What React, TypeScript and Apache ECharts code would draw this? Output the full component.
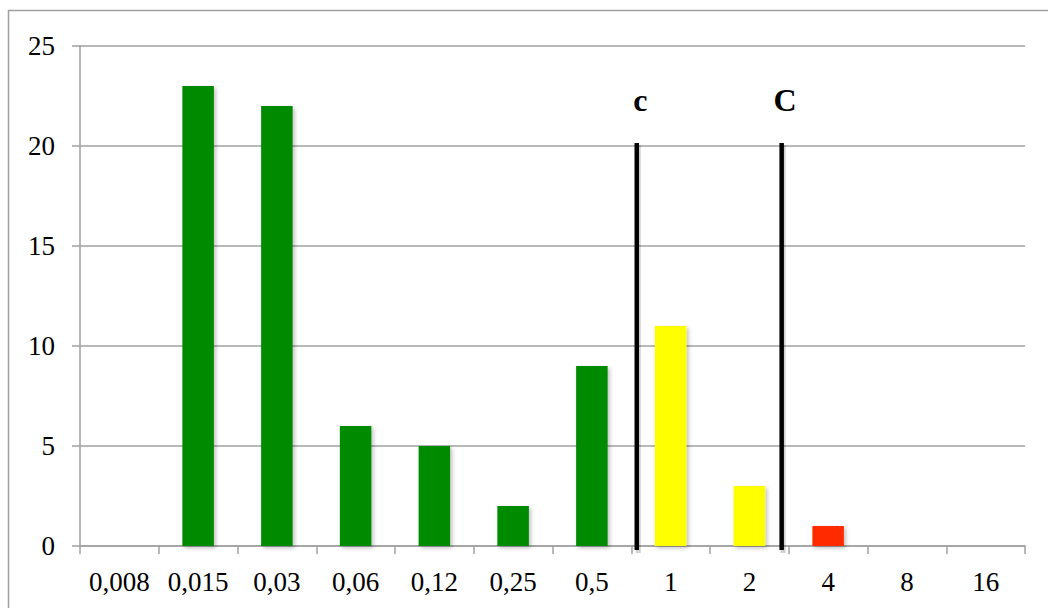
import React, { useEffect, useRef } from "react";
import * as echarts from "echarts";

const categories = ["0,008", "0,015", "0,03", "0,06", "0,12", "0,25", "0,5", "1", "2", "4", "8", "16"];
const counts = [0, 23, 22, 6, 5, 2, 9, 11, 3, 1, 0, 0];
const yTicks = { min: 0, max: 25, interval: 5 };
// breakpoint lines, in category-edge units (0 = left edge of first category)
const breakpointNames = ["c", "C"];
const breakpointPos = [7.07, 8.91];
const breakpointTop = 20.15;
const breakpointBottom = -0.2;

const GREEN = "#008a00";
const YELLOW = "#ffff00";
const RED = "#ff2a00";
const GRAY = "#a0a0a0";
const FONT = "Liberation Serif";

export default function App() {
  const ref = useRef<HTMLDivElement>(null);
  useEffect(() => {
    if (!ref.current) return;
    const chart = echarts.init(ref.current, null, { renderer: "svg" });
    const barData = counts.map((v, i) => {
      const centre = i + 0.5;
      const color = centre < breakpointPos[0] ? GREEN : centre < breakpointPos[1] ? YELLOW : RED;
      return { value: v, itemStyle: { color } };
    });
    const lineData = breakpointPos.map((p) => [Math.floor(p), p - Math.floor(p), breakpointTop, breakpointBottom]);
    chart.setOption({
      animation: false,
      backgroundColor: "#fff",
      graphic: [
        {
          type: "rect",
          shape: { x: 8.5, y: 10.5, width: 1100, height: 700 },
          style: { fill: "none", stroke: GRAY, lineWidth: 1.5 },
          silent: true,
        },
      ],
      grid: { left: 80, top: 46, right: 23, bottom: 62 },
      xAxis: {
        type: "category",
        data: categories,
        axisLine: { lineStyle: { color: GRAY, width: 1.5 } },
        axisTick: { show: true, length: 8, lineStyle: { color: GRAY, width: 1.5 } },
        axisLabel: { fontFamily: FONT, fontSize: 27, color: "#000", margin: 22, interval: 0 },
      },
      yAxis: {
        type: "value",
        min: yTicks.min,
        max: yTicks.max,
        interval: yTicks.interval,
        axisLine: { show: true, lineStyle: { color: GRAY, width: 1.5 } },
        axisTick: { show: true, length: 8, lineStyle: { color: GRAY, width: 1.5 } },
        axisLabel: { fontFamily: FONT, fontSize: 27, color: "#000", margin: 25 },
        splitLine: { show: true, lineStyle: { color: GRAY, width: 1.5 } },
      },
      series: [
        {
          type: "bar",
          barWidth: "40%",
          data: barData,
          itemStyle: { shadowBlur: 4, shadowColor: "rgba(0,0,0,0.25)", shadowOffsetX: 2, shadowOffsetY: 2 },
          z: 3,
        },
        {
          type: "custom",
          clip: false,
          silent: true,
          z: 5,
          data: lineData,
          renderItem: (params: any, api: any) => {
            const cat = api.value(0);
            const frac = api.value(1);
            const top = api.value(2);
            const bottom = api.value(3);
            const base = api.coord([cat, 0]);
            const bw = api.size([1, 0])[0];
            const x = base[0] - bw / 2 + frac * bw;
            const yTop = api.coord([cat, top])[1];
            const yBot = api.coord([cat, bottom])[1];
            return {
              type: "group",
              children: [
                {
                  type: "line",
                  shape: { x1: x + 1.5, y1: yTop + 2, x2: x + 1.5, y2: yBot + 3 },
                  style: { stroke: "rgba(0,0,0,0.18)", lineWidth: 5 },
                },
                {
                  type: "line",
                  shape: { x1: x, y1: yTop, x2: x, y2: yBot },
                  style: { stroke: "#000", lineWidth: 4.5 },
                },
                {
                  type: "text",
                  style: {
                    text: breakpointNames[params.dataIndex],
                    x: x + 3.5,
                    y: yTop - 27,
                    align: "center",
                    verticalAlign: "bottom",
                    font: `bold 32px "${FONT}"`,
                    fill: "#000",
                  },
                },
              ],
            };
          },
        },
      ],
    });
    return () => chart.dispose();
  }, []);
  return (
    <div
      ref={ref}
      style={{ position: "absolute", left: 0, top: 0, width: 1048, height: 608 }}
    />
  );
}
